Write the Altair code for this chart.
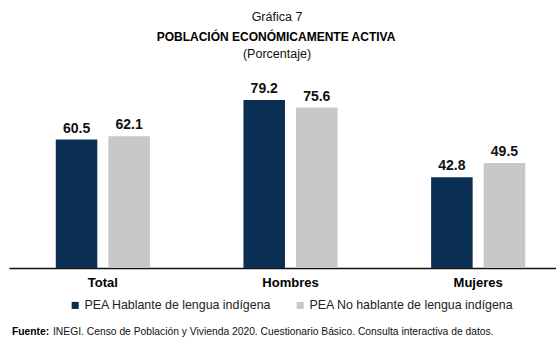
import altair as alt
import pandas as pd

categories = ["Total", "Hombres", "Mujeres"]
series = ["PEA Hablante de lengua indígena", "PEA No hablante de lengua indígena"]
hablante = [60.5, 79.2, 42.8]
no_hablante = [62.1, 75.6, 49.5]
colors = ["#0b2f52", "#c8c8c8"]

rows = []
for c, a, b in zip(categories, hablante, no_hablante):
    rows.append({"cat": c, "serie": series[0], "valor": a})
    rows.append({"cat": c, "serie": series[1], "valor": b})
df = pd.DataFrame(rows)

FONT = "Liberation Sans"

x = alt.X("cat:N", sort=categories, title=None,
          scale=alt.Scale(range=[9, 572], paddingInner=0, paddingOuter=0),
          axis=alt.Axis(labelAngle=0, labelFont=FONT, labelFontSize=13, labelFontWeight="bold",
                        labelColor="#000", ticks=False, domainColor="#111", domainWidth=1.5,
                        labelPadding=8, grid=False))
xo = alt.XOffset("serie:N", sort=series,
                 scale=alt.Scale(paddingInner=0.21, paddingOuter=0.89))
y = alt.Y("valor:Q", scale=alt.Scale(domain=[0, 90]), axis=None)

bars = alt.Chart(df).mark_bar().encode(
    x=x, xOffset=xo, y=y,
    color=alt.Color("serie:N", sort=series,
                    scale=alt.Scale(domain=series, range=colors),
                    legend=alt.Legend(title=None, orient="none", legendX=69, legendY=222,
                                      direction="horizontal", symbolType="square",
                                      symbolSize=50, labelFont=FONT, labelFontSize=12.4,
                                      labelColor="#222", columnPadding=22, symbolStrokeWidth=0,
                                      labelOffset=3, labelLimit=400)),
)

labels = alt.Chart(df).mark_text(dy=-11, font=FONT, fontSize=14, fontWeight="bold", color="#111").encode(
    x=alt.X("cat:N", sort=categories), xOffset=xo, y=y, text=alt.Text("valor:Q", format=".1f")
)

t1 = alt.Chart(pd.DataFrame({"t": ["Gráfica 7"]})).mark_text(font=FONT, fontSize=12.5, color="#111").encode(
    x=alt.value(277), y=alt.value(-60), text="t:N")
t2 = alt.Chart(pd.DataFrame({"t": ["POBLACIÓN ECONÓMICAMENTE ACTIVA"]})).mark_text(
    font=FONT, fontSize=12, fontWeight="bold", color="#000").encode(
    x=alt.value(276), y=alt.value(-40), text="t:N")
t3 = alt.Chart(pd.DataFrame({"t": ["(Porcentaje)"]})).mark_text(
    font=FONT, fontSize=12.5, color="#111").encode(
    x=alt.value(277), y=alt.value(-23), text="t:N")
f1 = alt.Chart(pd.DataFrame({"t": ["Fuente:"]})).mark_text(
    font=FONT, fontSize=10.3, fontWeight="bold", align="left", color="#000").encode(
    x=alt.value(12), y=alt.value(255), text="t:N")
f2 = alt.Chart(pd.DataFrame({"t": ["INEGI. Censo de Población y Vivienda 2020. Cuestionario Básico. Consulta interactiva de datos."]})).mark_text(
    font=FONT, fontSize=10.3, align="left", color="#111").encode(
    x=alt.value(53), y=alt.value(255), text="t:N")

chart = alt.layer(bars, labels, t1, t2, t3, f1, f2).properties(
    width=556, height=191,
    background="white",
    autosize=alt.AutoSizeParams(type="none"),
    padding={"top": 77, "left": 0, "right": 0, "bottom": 84},
).configure_view(strokeWidth=0)

chart.save("out.html", embed_options={"renderer": "svg", "actions": False})
